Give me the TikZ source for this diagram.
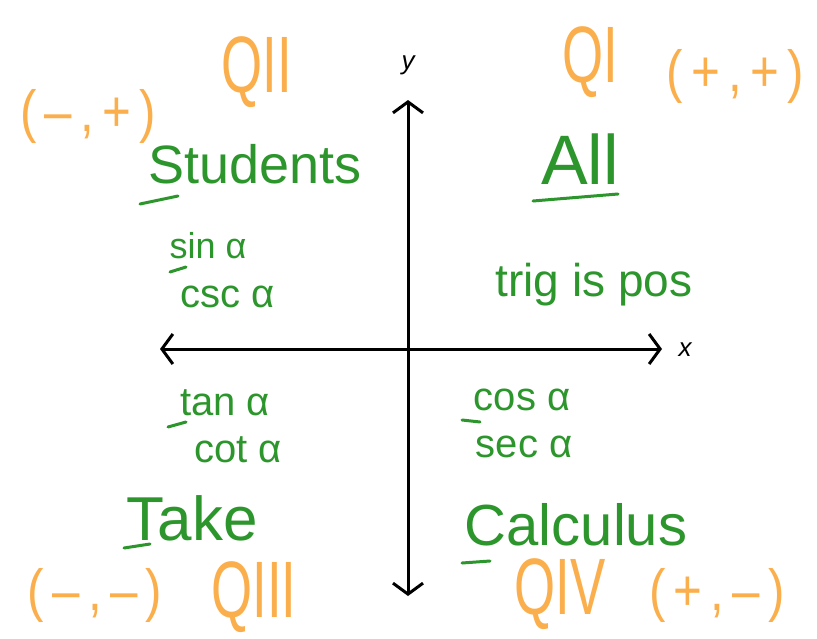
\documentclass[tikz,border=0pt]{standalone}
\usepackage{fontspec}
\setmainfont{Liberation Sans}
\usetikzlibrary{arrows.meta}

\definecolor{markorange}{RGB}{251,174,76}
\definecolor{markgreen}{RGB}{44,150,44}

\tikzset{
  signnote/.style={inner sep=0pt,outer sep=0pt,text=markorange,font=\fontsize{58}{64}\selectfont},
  quadnote/.style={inner sep=0pt,outer sep=0pt,text=markorange,font=\fontsize{80}{86}\selectfont},
  wordnote/.style={inner sep=0pt,outer sep=0pt,anchor=base,text=markgreen,font=\fontsize{54}{60}\selectfont},
  funcnote/.style={inner sep=0pt,outer sep=0pt,anchor=base,text=markgreen,font=\fontsize{40}{46}\selectfont},
  axislabel/.style={inner sep=0pt,outer sep=0pt,text=black,font=\itshape\fontsize{26}{30}\selectfont},
  understroke/.style={draw=markgreen,line width=3pt,line cap=round},
  axisline/.style={draw=black,line width=3pt,{Straight Barb[length=11pt,width=30pt]}-{Straight Barb[length=11pt,width=30pt]}},
}

\begin{document}
\begin{tikzpicture}[x=1pt,y=-1pt]
\path[use as bounding box,fill=white] (0,0) rectangle (817,638);

% axes
\coordinate (xleft) at (160,349);
\coordinate (xright) at (662,349);
\coordinate (ytop) at (408,100);
\coordinate (ybottom) at (408,596);
\draw[axisline] (xleft) -- (xright);
\draw[axisline] (ytop) -- (ybottom);
\node[axislabel] (ylab) at (408,65) {y};
\node[axislabel] (xlab) at (685,350) {x};

% quadrant names and signs
\node[signnote] (signtwo) at (88,116) {\scalebox{.85}[1]{(\,–\,,\,+\,)}};
\node[quadnote] (quadtwo) at (257,72) {\scalebox{.66}[1]{QII}};
\node[quadnote] (quadone) at (590,62) {\scalebox{.66}[1]{QI}};
\node[signnote] (signone) at (735,76) {\scalebox{.85}[1]{(\,+\,,\,+\,)}};
\node[signnote] (signthree) at (95,595) {\scalebox{.85}[1]{(\,–\,,\,–\,)}};
\node[quadnote] (quadthree) at (254,597) {\scalebox{.66}[1]{QIII}};
\node[quadnote] (quadfour) at (560,594) {\scalebox{.66}[1]{QIV}};
\node[signnote] (signfour) at (717,595) {\scalebox{.85}[1]{(\,+\,,\,–\,)}};

% mnemonic words
\node[wordnote] (students) at (255,183) {Students};
\node[wordnote,font=\fontsize{70}{76}\selectfont] (all) at (580,184) {All};
\node[wordnote,font=\fontsize{62}{68}\selectfont] (take) at (192,540) {Take};
\node[wordnote,font=\fontsize{58}{64}\selectfont] (calculus) at (576,545) {Calculus};

% positive functions
\node[funcnote,font=\fontsize{36}{40}\selectfont] (sinq) at (208,258) {sin α};
\node[funcnote] (cscq) at (228,307) {csc α};
\node[funcnote,font=\fontsize{46}{50}\selectfont] (trigq) at (594,296) {trig is pos};
\node[funcnote] (tanq) at (225,415) {tan α};
\node[funcnote] (cotq) at (238,462) {cot α};
\node[funcnote] (cosq) at (522,410) {cos α};
\node[funcnote] (secq) at (524,457) {sec α};

% underline strokes
\draw[understroke] (140,204) -- (178,196);
\draw[understroke] (533,201) -- (618,194);
\draw[understroke] (170,272) -- (186,267);
\draw[understroke] (168,427) -- (186,422);
\draw[understroke] (462,420) -- (480,422);
\draw[understroke] (124,548) -- (150,544);
\draw[understroke] (462,563) -- (490,561);
\end{tikzpicture}
\end{document}
